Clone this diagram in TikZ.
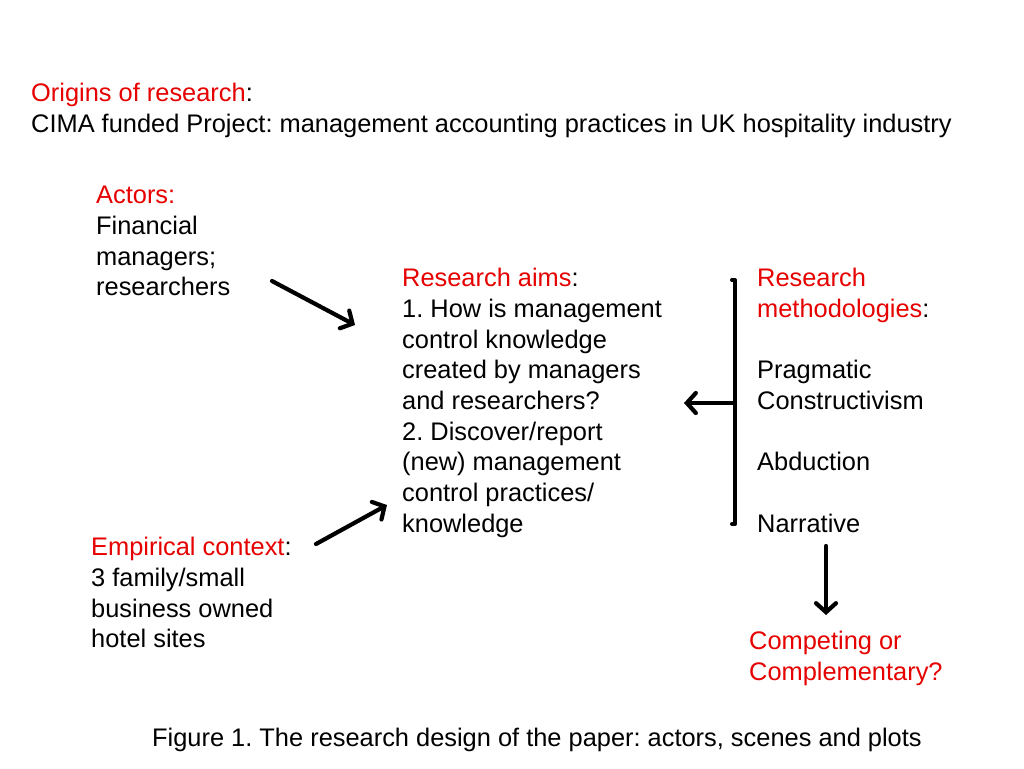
\documentclass[tikz,border=0pt]{standalone}
\usepackage{fontspec}
\setmainfont{Liberation Sans}
\usetikzlibrary{arrows.meta}
\definecolor{hl}{RGB}{230,0,0}
\frenchspacing
\tikzset{
  txt/.style={anchor=north west,inner sep=0pt,align=left,font=\fontsize{25.4}{30.7}\selectfont},
  arr/.style={line width=4.2pt,line cap=round,-{Straight Barb[length=9pt,width=20pt,line cap=round]}},
  brk/.style={line width=4pt,line cap=round,line join=round}
}
\begin{document}
\begin{tikzpicture}[x=1pt,y=-1pt]
\useasboundingbox (0,0) rectangle (1024,768);
\fill[white] (0,0) rectangle (1024,768);
\node[txt] (origins) at (31,83) {\textcolor{hl}{Origins of research}:\\CIMA funded Project: management accounting practices in UK hospitality industry};
\node[txt] (actors) at (96,186) {\textcolor{hl}{Actors:}\\Financial\\managers;\\researchers};
\node[txt] (aims) at (402,268) {\textcolor{hl}{Research aims}:\\1. How is management\\control knowledge\\created by managers\\and researchers?\\2. Discover/report\\(new) management\\control practices/\\knowledge};
\node[txt] (meth) at (757,268) {\textcolor{hl}{Research}\\\textcolor{hl}{methodologies}:\\[30.7pt]Pragmatic\\Constructivism\\[30.7pt]Abduction\\[30.7pt]Narrative};
\node[txt] (emp) at (91,537) {\textcolor{hl}{Empirical context}:\\3 family/small\\business owned\\hotel sites};
\node[txt] (comp) at (749,631) {\textcolor{hl}{Competing or}\\\textcolor{hl}{Complementary?}};
\node[txt] (cap) at (152,728) {Figure 1. The research design of the paper: actors, scenes and plots};
\coordinate (a1) at (272,281);
\coordinate (a2) at (355,325);
\coordinate (e1) at (316,544);
\coordinate (e2) at (387,505);
\coordinate (bt) at (735,280);
\coordinate (bb) at (735,524);
\coordinate (bm) at (735,403);
\coordinate (am) at (684,403);
\coordinate (d1) at (826,546);
\coordinate (d2) at (826,615);
\draw[arr] (a1) -- (a2);
\draw[arr] (e1) -- (e2);
\draw[brk] ([xshift=-3pt]bt) -- (bt) -- (bb) -- ([xshift=-3pt]bb);
\draw[arr] (bm) -- (am);
\draw[arr] (d1) -- (d2);
\end{tikzpicture}
\end{document}
